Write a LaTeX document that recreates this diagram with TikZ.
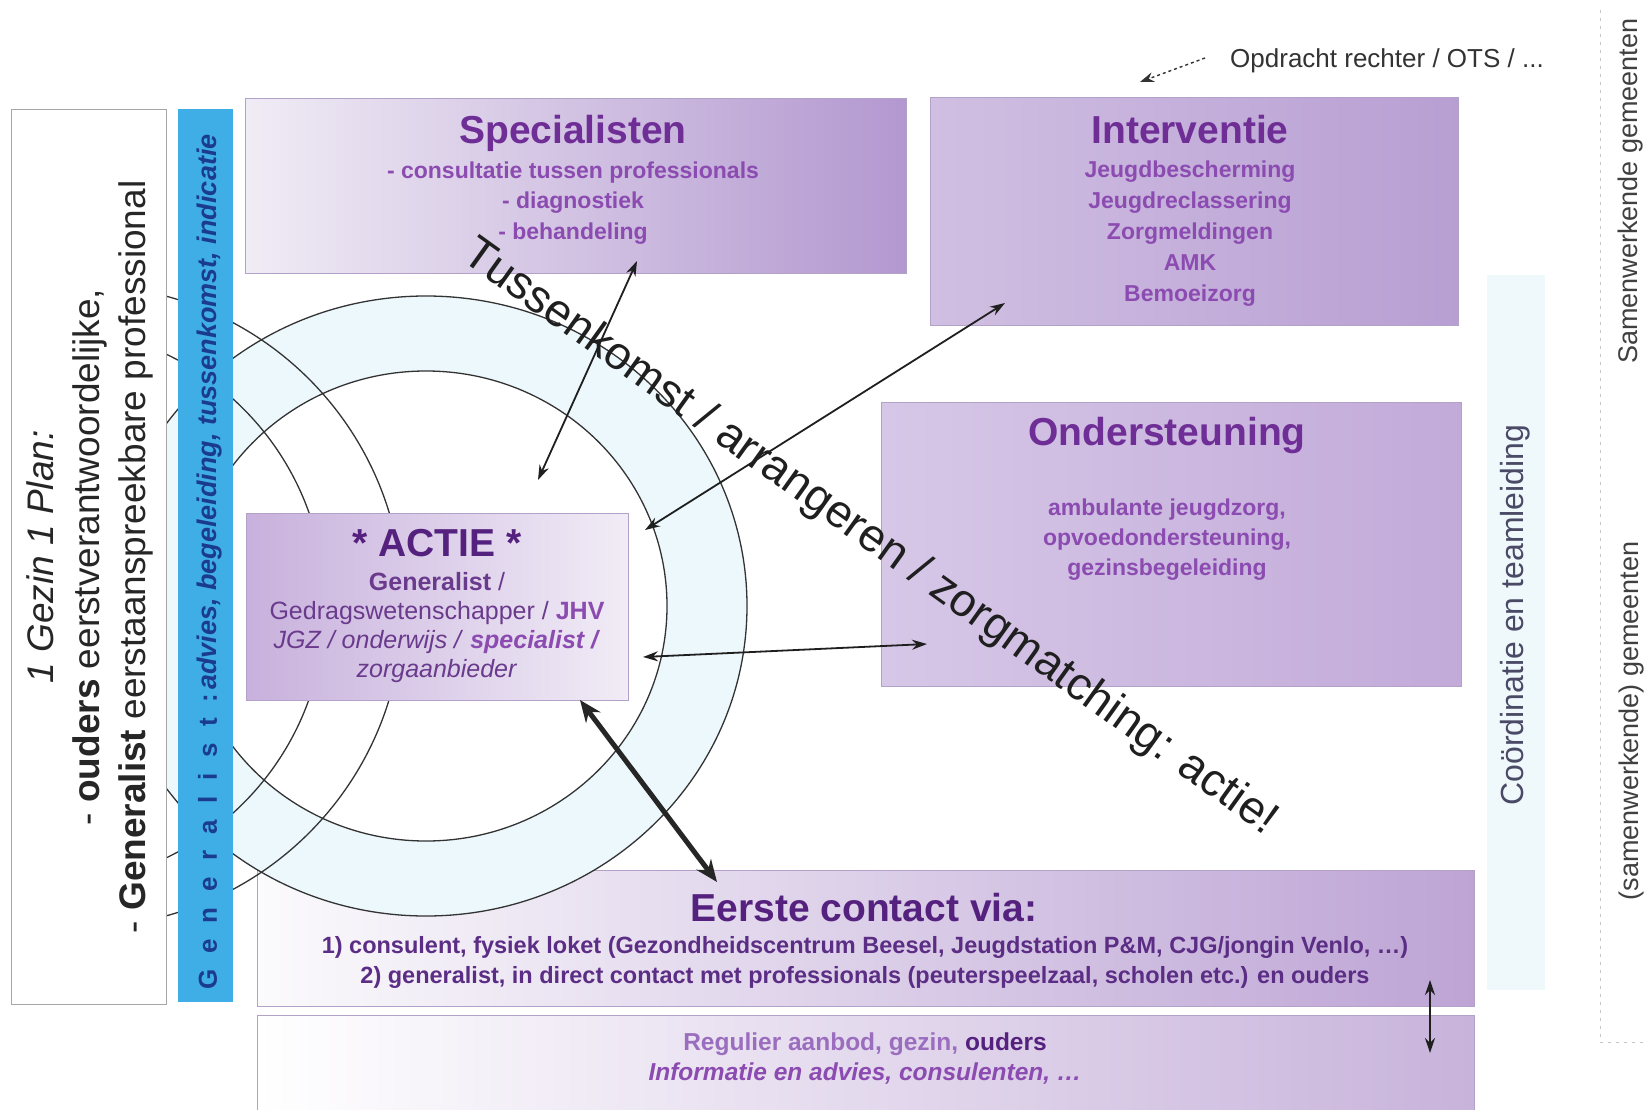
\documentclass[tikz,border=0pt]{standalone}
\usepackage{fontspec}
\setmainfont{Liberation Sans}
\usetikzlibrary{arrows.meta}
\definecolor{ttl}{HTML}{6F2D96}
\definecolor{sub}{HTML}{8B4BB0}
\definecolor{dkp}{HTML}{55217E}
\definecolor{actc}{HTML}{6A3A8C}
\definecolor{eerc}{HTML}{5B2D84}
\definecolor{regl}{HTML}{9A6DBE}
\definecolor{stripblue}{HTML}{3FAEE6}
\definecolor{striptxt}{HTML}{1B3C8E}
\definecolor{ringfill}{HTML}{ECF8FC}
\definecolor{edge}{HTML}{B3A2C7}
\definecolor{coordbg}{HTML}{EFF9FC}
\definecolor{coordtxt}{HTML}{4A4A66}
\definecolor{spL}{HTML}{F0ECF5}\definecolor{spM}{HTML}{E3DAEE}\definecolor{spR}{HTML}{B398D0}
\definecolor{inL}{HTML}{D0BFE2}\definecolor{inM}{HTML}{F5F2F9}\definecolor{inR}{HTML}{B89FD3}
\definecolor{onL}{HTML}{D6C7E7}\definecolor{onM}{HTML}{F8F6FA}\definecolor{onR}{HTML}{C2AAD9}
\definecolor{acL}{HTML}{C8B1DD}\definecolor{acM}{HTML}{E7DDF0}\definecolor{acR}{HTML}{F1ECF6}
\definecolor{eeL}{HTML}{FBFAFC}\definecolor{eeM}{HTML}{E6DDEF}\definecolor{eeR}{HTML}{BDA4D5}
\definecolor{reL}{HTML}{FFFFFF}\definecolor{reM}{HTML}{F0EAF5}\definecolor{reR}{HTML}{C8B3DB}
\newcommand\myfs[2]{\fontsize{#1}{#2}\selectfont}
\begin{document}
\begin{tikzpicture}[x=1pt,y=-1pt,
  pbox/.style={rectangle, draw=edge, line width=1.2pt, inner sep=0pt, anchor=north west},
  ttlf/.style={text=ttl, font=\myfs{39}{44}\bfseries, inner sep=0pt},
  subf/.style={text=sub, font=\myfs{23}{31}\bfseries, align=center, inner sep=0pt},
  arr/.style={draw=black!88, line width=1.8pt, {Stealth[length=15pt,width=10pt]}-{Stealth[length=15pt,width=10pt]}},
  thickarr/.style={draw=black!85, line width=5pt, {Stealth[length=22pt,width=18pt]}-{Stealth[length=22pt,width=18pt]}},
  ring/.style={draw=black!80, line width=1.3pt},
  vtext/.style={rotate=90, inner sep=0pt},
]
\useasboundingbox (0,0) rectangle (1648,1110);
\fill[white] (0,0) rectangle (1648,1110);

% far right margin
\draw[black!22, line width=1pt, dash pattern=on 3pt off 5pt] (1600,10) -- (1600,1042) -- (1648,1042);
\node[vtext, text=black!75, font=\myfs{27}{30}] (samen) at (1630,191) {Samenwerkende gemeenten};
\node[vtext, text=black!75, font=\myfs{27}{30}] (samen2) at (1631,721) {(samenwerkende) gemeenten};

% coordination strip
\node[rectangle, fill=coordbg, minimum width=58pt, minimum height=715pt, anchor=north west, inner sep=0pt] (coordbox) at (1487,275) {};
\node[vtext, text=coordtxt, font=\myfs{32}{36}] (coord) at (1515,615) {Coördinatie en teamleiding};

% bottom boxes
\node[pbox, minimum width=1217pt, minimum height=136pt, left color=eeL, middle color=eeM, right color=eeR] (eerste) at (257,870) {};
\node[pbox, minimum width=1217pt, minimum height=100pt, left color=reL, middle color=reM, right color=reR] (regulier) at (257,1015) {};

% circles
\begin{scope}
\clip (11,0) rectangle (1648,1110);
\coordinate (rc) at (426,606);
\fill[ringfill, even odd rule] (rc) ellipse [x radius=321, y radius=310] (rc) ellipse [x radius=241, y radius=235];
\draw[ring] (rc) ellipse [x radius=321, y radius=310];
\draw[ring] (rc) ellipse [x radius=241, y radius=235];
\draw[ring] (82,606) circle [radius=321];
\draw[ring] (46,606) circle [radius=279];
\end{scope}

% left box and strip
\node[rectangle, draw=black!35, line width=1.2pt, fill=white, minimum width=155pt, minimum height=895pt, anchor=north west, inner sep=0pt] (plan) at (11,109) {};
\node[rectangle, fill=stripblue, minimum width=55pt, minimum height=893pt, anchor=north west, inner sep=0pt] (strip) at (178,109) {};
\node[vtext, align=center, text=black!85, font=\myfs{37}{46}] (plantext) at (90,557)
  {{\itshape 1 Gezin 1 Plan:}\\- \textbf{ouders} eerstverantwoordelijke,\\- \textbf{Generalist} eerstaanspreekbare professional};
\node[vtext, anchor=west, text=striptxt] (striptext) at (210,990)
  {{\myfs{26}{30}\bfseries\addfontfeature{LetterSpace=34}G e n e r a l i s t :} {\myfs{27}{30}\bfseries\itshape advies, begeleiding, tussenkomst, indicatie}};

% upper boxes
\node[pbox, minimum width=661pt, minimum height=175pt, left color=spL, middle color=spM, right color=spR] (spec) at (245,98) {};
\node[pbox, minimum width=528pt, minimum height=228pt, left color=inL, middle color=inM, right color=inR] (interv) at (930,97) {};
\node[pbox, minimum width=580pt, minimum height=284pt, left color=onL, middle color=onM, right color=onR] (onder) at (881,402) {};
\node[pbox, minimum width=382pt, minimum height=187pt, left color=acL, middle color=acM, right color=acR] (actie) at (246,513) {};

% texts in boxes
\node[ttlf] (specT) at (573,133) {Specialisten};
\node[subf, font=\myfs{23}{30.5}\bfseries] (specS) at (573,203) {- consultatie tussen professionals\\- diagnostiek\\- behandeling};
\node[ttlf] (intT) at (1190,130) {Interventie};
\node[subf] (intS) at (1190,234) {Jeugdbescherming\\Jeugdreclassering\\Zorgmeldingen\\AMK\\Bemoeizorg};
\node[ttlf] (ondT) at (1167,435) {Ondersteuning};
\node[subf, font=\myfs{23}{30}\bfseries] (ondS) at (1167,540) {ambulante jeugdzorg,\\opvoedondersteuning,\\gezinsbegeleiding};

\node[text=dkp, font=\myfs{39}{44}\bfseries, inner sep=0pt] (actT) at (437,543) {* ACTIE *};
\node[align=center, inner sep=0pt, font=\myfs{25}{29}, text=actc] (actS) at (437,628)
  {\textbf{Generalist} /\\Gedragswetenschapper / \textcolor{sub}{\textbf{JHV}}\\\textit{JGZ / onderwijs /} \textcolor{sub}{\textbf{\textit{specialist /}}}\\\textit{zorgaanbieder}};

\node[text=dkp, font=\myfs{39}{44}\bfseries, inner sep=0pt] (eerT) at (864,908) {Eerste contact via:};
\node[align=center, inner sep=0pt, font=\myfs{23.5}{30}\bfseries, text=eerc] (eerS) at (865,962)
  {1) consulent, fysiek loket (Gezondheidscentrum Beesel, Jeugdstation P\&M, CJG/jongin Venlo, …)\\2) generalist, in direct contact met professionals (peuterspeelzaal, scholen etc.) en ouders};

\node[align=center, inner sep=0pt, font=\myfs{24.5}{30}\bfseries] (regS) at (865,1059)
  {{\color{regl}Regulier aanbod, gezin,} {\color{dkp}ouders}\\{\color{sub}\itshape Informatie en advies, consulenten, …}};

% top note
\node[text=black!80, font=\myfs{26}{30}, inner sep=0pt] (opd) at (1387,61) {Opdracht rechter / OTS / ...};
\coordinate (opdS) at (1205,58);
\coordinate (opdE) at (1140,82);
\draw[black!80, dashed, line width=1.4pt, -{Stealth[length=14pt,width=10pt]}] (opdS) -- (opdE);

% connectors
\coordinate (a1s) at (637,261); \coordinate (a1e) at (538,480);
\coordinate (a2s) at (645,530); \coordinate (a2e) at (1005,303);
\coordinate (a3s) at (643,657); \coordinate (a3e) at (927,644);
\coordinate (a4s) at (580,700); \coordinate (a4e) at (717,882);
\coordinate (a5s) at (1430,980); \coordinate (a5e) at (1430,1053);
\draw[arr] (a1s) -- (a1e);
\draw[arr] (a2s) -- (a2e);
\draw[arr] (a3s) -- (a3e);
\draw[thickarr] (a4s) -- (a4e);
\draw[arr] (a5s) -- (a5e);

% diagonal text
\node[rotate=-35.6, font=\myfs{46}{50}, text=black!88, inner sep=0pt] (tuss) at (870,538) {Tussenkomst / arrangeren / zorgmatching: actie!};
\end{tikzpicture}
\end{document}
